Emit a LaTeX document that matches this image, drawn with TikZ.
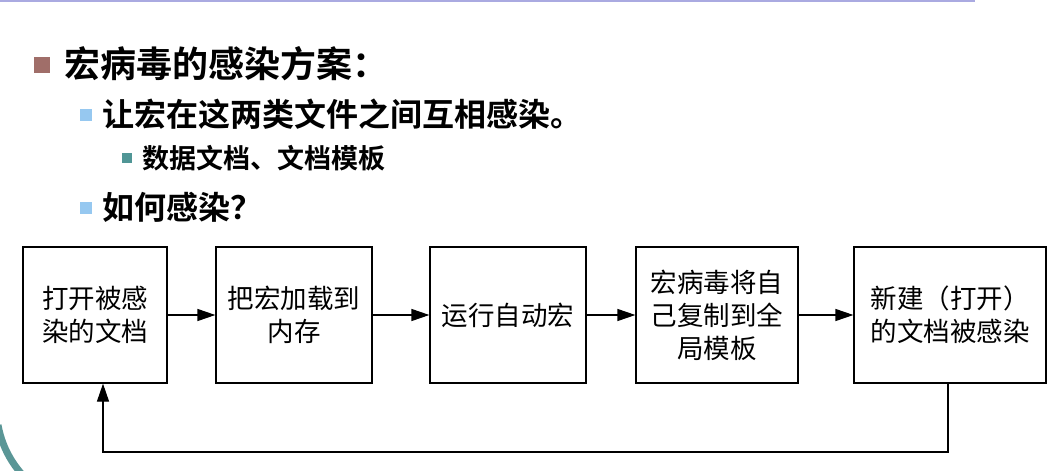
\documentclass[tikz,border=0pt]{standalone}
\usepackage{fontspec}
\newfontfamily\cjk{Noto Sans CJK SC}
\newfontfamily\cjkb{Noto Sans CJK SC Bold}
\usetikzlibrary{arrows.meta}
\begin{document}
\begin{tikzpicture}[x=1pt,y=-1pt,
  stepbox/.style={draw,line width=1.2pt,minimum height=136pt,align=center,font=\cjk\fontsize{26.5}{33}\selectfont,inner sep=1pt},
  arr/.style={-{Triangle[length=18pt,width=12pt]},line width=1.2pt}]
\useasboundingbox (0,0) rectangle (1052,471);
\fill[white] (0,0) rectangle (1052,471);
\draw[color={rgb,255:red,170;green,170;blue,225},line width=2pt] (0,1) -- (975,1);
\draw[color={rgb,255:red,90;green,150;blue,150},line width=7pt] (-2,425) arc[start angle=170,end angle=125,radius=100];
\fill[color={rgb,255:red,160;green,110;blue,105}] (34,57) rectangle (50,73);
\node[anchor=west,font=\cjkb\fontsize{36}{40}\selectfont,inner sep=0pt] (t1) at (64,64) {宏病毒的感染方案：};
\fill[color={rgb,255:red,150;green,200;blue,240}] (80,109) rectangle (92,121);
\node[anchor=west,font=\cjkb\fontsize{32}{36}\selectfont,inner sep=0pt] (t2) at (102,114) {让宏在这两类文件之间互相感染。};
\fill[color={rgb,255:red,80;green,150;blue,150}] (122,153) rectangle (132,163);
\node[anchor=west,font=\cjkb\fontsize{27}{30}\selectfont,inner sep=0pt] (t3) at (142,158) {数据文档、文档模板};
\fill[color={rgb,255:red,150;green,200;blue,240}] (80,202) rectangle (92,214);
\node[anchor=west,font=\cjkb\fontsize{32}{36}\selectfont,inner sep=0pt] (t4) at (102,207) {如何感染？};
\node[stepbox,minimum width=144pt] (b1) at (95,315) {打开被感\\染的文档};
\node[stepbox,minimum width=156pt] (b2) at (294,315) {把宏加载到\\内存};
\node[stepbox,minimum width=156pt] (b3) at (508,315) {运行自动宏};
\node[stepbox,minimum width=162pt] (b4) at (717,315) {宏病毒将自\\己复制到全\\局模板};
\node[stepbox,minimum width=192pt] (b5) at (950,315) {新建（打开）\\的文档被感染};
\draw[arr] (b1) -- (b2);
\draw[arr] (b2) -- (b3);
\draw[arr] (b3) -- (b4);
\draw[arr] (b4) -- (b5);
\coordinate (c1) at (948,452);
\coordinate (c2) at (103,452);
\draw[arr] (b5.south -| c1) -- (c1) -- (c2) -- (b1.south -| c2);
\end{tikzpicture}
\end{document}
